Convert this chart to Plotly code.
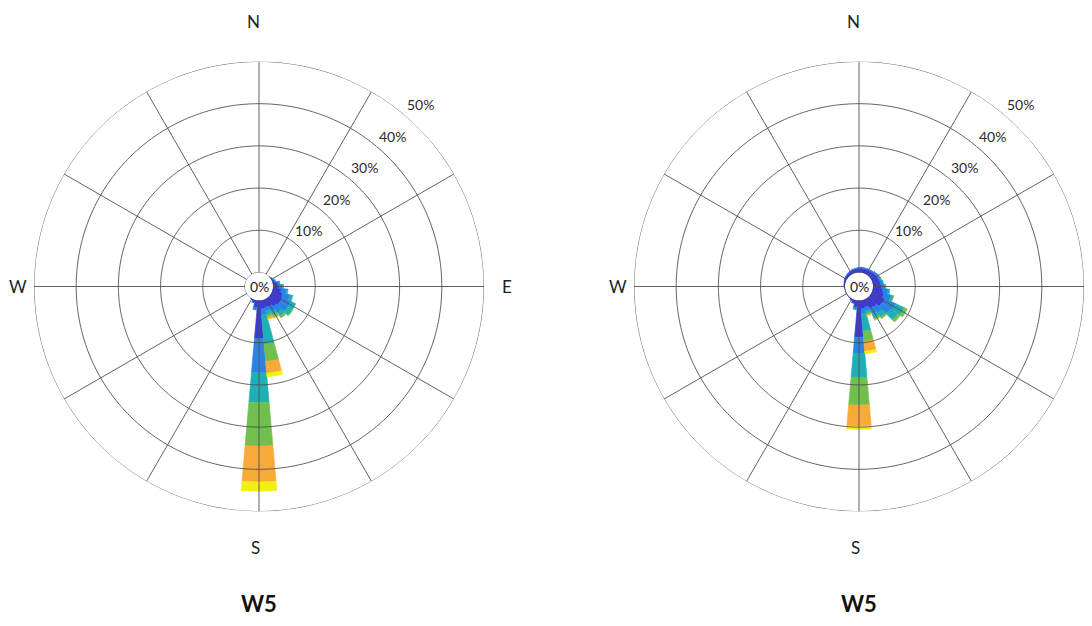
import numpy as np
import plotly.graph_objects as go

# ---------------- data ----------------
directions = [d * 10 for d in range(36)]  # degrees clockwise from N
bin_names = ["bin1", "bin2", "bin3", "bin4", "bin5", "bin6"]
bin_colors = ["#3b38d4", "#2a82e4", "#1db1b6", "#70bf4f", "#f8aa38", "#f2f012"]

# Left rose (percent per direction, per speed bin)
left_b1 = [0, 0, 0, 0, 0, 0.1, 0.3, 0.5, 1.0, 1.4, 2.0, 2.5, 2.8, 2.8, 2.5, 2.0, 1.8, 2.0,
           9.0, 1.6, 0.6, 0.2, 0, 0, 0, 0, 0, 0, 0, 0, 0, 0, 0, 0, 0, 0]
left_b2 = [0, 0, 0, 0, 0, 0, 0.1, 0.3, 0.6, 0.9, 1.2, 1.8, 2.3, 2.2, 1.8, 1.3, 1.0, 1.5,
           8.1, 0.6, 0.2, 0, 0, 0, 0, 0, 0, 0, 0, 0, 0, 0, 0, 0, 0, 0]
left_b3 = [0, 0, 0, 0, 0, 0, 0, 0, 0.1, 0.2, 0.4, 0.7, 1.2, 1.3, 1.0, 0.9, 0.8, 7.0,
           7.1, 0.1, 0, 0, 0, 0, 0, 0, 0, 0, 0, 0, 0, 0, 0, 0, 0, 0]
left_b4 = [0, 0, 0, 0, 0, 0, 0, 0, 0, 0, 0, 0, 0, 0.2, 0.5, 0.6, 0.6, 4.0,
           10.3, 0, 0, 0, 0, 0, 0, 0, 0, 0, 0, 0, 0, 0, 0, 0, 0, 0]
left_b5 = [0, 0, 0, 0, 0, 0, 0, 0, 0, 0, 0, 0, 0, 0, 0, 0.2, 0.5, 2.8,
           8.5, 0, 0, 0, 0, 0, 0, 0, 0, 0, 0, 0, 0, 0, 0, 0, 0, 0]
left_b6 = [0, 0, 0, 0, 0, 0, 0, 0, 0, 0, 0, 0, 0, 0, 0, 0, 0.1, 0.9,
           2.2, 0, 0, 0, 0, 0, 0, 0, 0, 0, 0, 0, 0, 0, 0, 0, 0, 0]

# Right rose
right_b1 = [1.0, 1.1, 1.1, 1.1, 1.2, 1.4, 1.5, 1.6, 1.8, 2.0, 2.4, 2.8, 3.5, 3.3, 2.6, 2.4, 1.8, 2.0,
            8.7, 1.6, 0.8, 0.4, 0.2, 0.1, 0.1, 0.1, 0.1, 0.2, 0.3, 0.4, 0.5, 0.6, 0.7, 0.8, 0.9, 0.9]
right_b2 = [0.2, 0.2, 0.2, 0.3, 0.3, 0.4, 0.5, 0.5, 0.6, 0.8, 1.2, 1.7, 2.8, 2.6, 1.8, 1.6, 0.9, 1.2,
            3.9, 0.5, 0.1, 0, 0, 0, 0, 0, 0, 0, 0, 0, 0.1, 0.1, 0.1, 0.1, 0.15, 0.2]
right_b3 = [0, 0, 0, 0, 0, 0, 0, 0.1, 0.1, 0.2, 0.4, 0.6, 2.2, 2.0, 1.2, 1.0, 0.6, 4.1,
            5.7, 0.1, 0, 0, 0, 0, 0, 0, 0, 0, 0, 0, 0, 0, 0, 0, 0, 0]
right_b4 = [0, 0, 0, 0, 0, 0, 0, 0, 0, 0, 0, 0.1, 0.8, 0.7, 0.4, 0.4, 0.4, 2.4,
            6.5, 0, 0, 0, 0, 0, 0, 0, 0, 0, 0, 0, 0, 0, 0, 0, 0, 0]
right_b5 = [0, 0, 0, 0, 0, 0, 0, 0, 0, 0, 0, 0, 0, 0, 0, 0.1, 0.2, 2.4,
            5.0, 0, 0, 0, 0, 0, 0, 0, 0, 0, 0, 0, 0, 0, 0, 0, 0, 0]
right_b6 = [0, 0, 0, 0, 0, 0, 0, 0, 0, 0, 0, 0, 0, 0, 0, 0, 0.1, 0.6,
            0.8, 0, 0, 0, 0, 0, 0, 0, 0, 0, 0, 0, 0, 0, 0, 0, 0, 0]

radial_ticks = [10, 20, 30, 40, 50]
radial_tick_text = ["10%", "20%", "30%", "40%", "50%"]
spoke_angles = [a * 30 for a in range(12)]
compass_text = ["N", "E", "S", "W"]
titles = ["W5", "W5"]

left_bins = [left_b1, left_b2, left_b3, left_b4, left_b5, left_b6]
right_bins = [right_b1, right_b2, right_b3, right_b4, right_b5, right_b6]

# ---------------- geometry (page has an 8px body margin) ----------------
W, H = 1076, 610
R_MAX = 50
R_PX = 225.0       # outer ring radius in pixels
HOLE_PX = 14.0     # radius of the central "0%" circle
FONT = "Lato, 'Open Sans', Arial, sans-serif"
GRID = "#505050"

centers = [(251.0, 278.5), (851.0, 278.5)]


def r_to_px(r):
    return HOLE_PX + r / R_MAX * (R_PX - HOLE_PX)


def to_paper(cx, cy, dist, theta_deg, dx=0.0, dy=0.0):
    t = np.deg2rad(theta_deg)
    x = cx + dist * np.sin(t) + dx
    y = cy - dist * np.cos(t) + dy
    return x / W, 1 - y / H


fig = go.Figure()


def add_rose(sub, bins):
    for vals, name, col in zip(bins, bin_names, bin_colors):
        fig.add_trace(go.Barpolar(
            r=vals, theta=directions, width=[10] * len(directions),
            name=name, marker=dict(color=col, line=dict(color=col, width=0.6)),
            subplot=sub, showlegend=False, hoverinfo="skip"))
    # grid drawn above the bars
    ring_theta = np.linspace(0, 360, 361)
    for rv in [0] + radial_ticks:
        fig.add_trace(go.Scatterpolar(
            r=[rv] * len(ring_theta), theta=ring_theta, mode="lines",
            line=dict(color=GRID, width=0.9), subplot=sub,
            showlegend=False, hoverinfo="skip"))
    for a in spoke_angles:
        fig.add_trace(go.Scatterpolar(
            r=[0, R_MAX], theta=[a, a], mode="lines",
            line=dict(color=GRID, width=0.9), subplot=sub,
            showlegend=False, hoverinfo="skip"))


add_rose("polar", left_bins)
add_rose("polar2", right_bins)

hole = HOLE_PX / R_PX


def polar_layout(cx, cy):
    return dict(
        domain=dict(x=[(cx - R_PX) / W, min(1.0, (cx + R_PX) / W)],
                    y=[1 - (cy + R_PX) / H, 1 - (cy - R_PX) / H]),
        hole=hole,
        bgcolor="rgba(0,0,0,0)",
        barmode="stack",
        angularaxis=dict(rotation=90, direction="clockwise", showgrid=False,
                         showticklabels=False, ticks="", showline=False),
        radialaxis=dict(range=[0, R_MAX], showgrid=False, showticklabels=False,
                        ticks="", showline=False),
    )


annotations = []
# compass label placement: (theta, distance px, dx, dy)
compass_pos = [(0, 265, -6, 0), (90, 248, 0, 0), (180, 261, -4, 0), (270, 241, 0, 0)]
for k, (cx, cy) in enumerate(centers):
    # central 0%
    x0, y0 = to_paper(cx, cy, 0, 0)
    annotations.append(dict(x=x0, y=y0, xref="paper", yref="paper", text="0%",
                            showarrow=False, xanchor="center", yanchor="middle",
                            font=dict(family=FONT, size=14, color="#222222")))
    # radial labels
    for v, txt in zip(radial_ticks, radial_tick_text):
        xp, yp = to_paper(cx, cy, r_to_px(v) + 18, 41.5)
        annotations.append(dict(x=xp, y=yp, xref="paper", yref="paper", text=txt,
                                showarrow=False, xanchor="center", yanchor="middle",
                                font=dict(family=FONT, size=14, color="#2a2a2a")))
    # compass labels
    for txt, (th, dist, dx, dy) in zip(compass_text, compass_pos):
        xp, yp = to_paper(cx, cy, dist, th, dx, dy)
        if xp > 1.0:
            continue  # falls outside the picture, as in the reference
        annotations.append(dict(x=xp, y=yp, xref="paper", yref="paper", text=txt,
                                showarrow=False, xanchor="center", yanchor="middle",
                                font=dict(family=FONT, size=17, color="#222222")))
    # title
    annotations.append(dict(x=cx / W, y=1 - 595 / H, xref="paper", yref="paper",
                            text="<b>" + titles[k] + "</b>", showarrow=False,
                            xanchor="center", yanchor="middle",
                            font=dict(family=FONT, size=22, color="#111111")))

fig.update_layout(
    width=W, height=H,
    margin=dict(l=0, r=0, t=0, b=0),
    paper_bgcolor="white",
    plot_bgcolor="white",
    polar=polar_layout(*centers[0]),
    polar2=polar_layout(*centers[1]),
    annotations=annotations,
    showlegend=False,
)

fig.write_html("out.html")
